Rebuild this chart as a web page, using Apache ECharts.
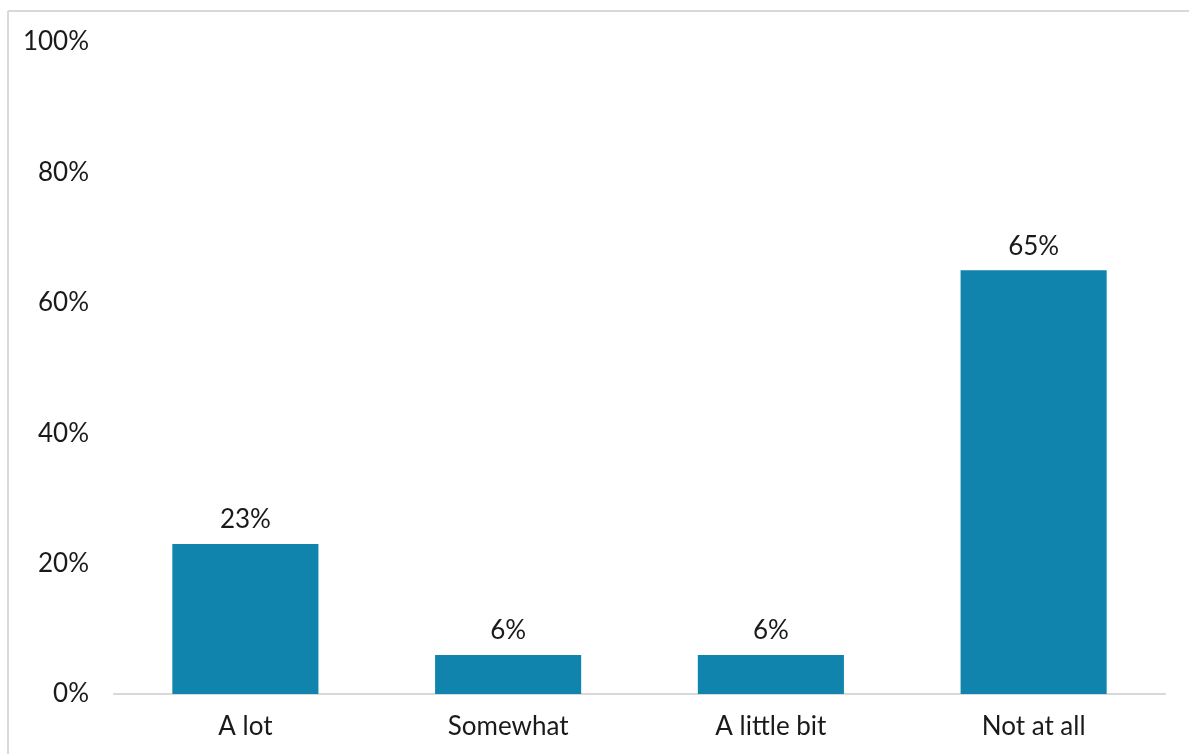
<!DOCTYPE html>
<html>
<head>
<meta charset="utf-8">
<script src="https://cdn.jsdelivr.net/npm/echarts@6/dist/echarts.min.js"></script>
<style>
html,body{margin:0;padding:0;background:#fff;}
#c{width:1189px;height:754px;}
</style>
</head>
<body>
<div id="c"></div>
<script>
const categories = ['A lot', 'Somewhat', 'A little bit', 'Not at all'];
const values = [23, 6, 6, 65];
const yTicks = [0, 20, 40, 60, 80, 100];

const chart = echarts.init(document.getElementById('c'));
const font = 'Lato, "Noto Sans", sans-serif';
chart.setOption({
  animation: false,
  backgroundColor: '#ffffff',
  graphic: [
    {type: 'line', shape: {x1: 8, y1: 11, x2: 1189, y2: 11}, style: {stroke: '#d9d9d9', lineWidth: 2}},
    {type: 'line', shape: {x1: 8, y1: 11, x2: 8, y2: 754}, style: {stroke: '#d9d9d9', lineWidth: 2}}
  ],
  grid: {left: 114, right: 24, top: 42, bottom: 60, containLabel: false},
  xAxis: {
    type: 'category',
    data: categories,
    axisLine: {lineStyle: {color: '#d9d9d9', width: 2}},
    axisTick: {show: false},
    axisLabel: {color: '#1a1a1a', fontSize: 26, fontFamily: font, margin: 20}
  },
  yAxis: {
    type: 'value',
    min: yTicks[0],
    max: yTicks[yTicks.length - 1],
    interval: 20,
    splitLine: {show: false},
    axisLine: {show: false},
    axisTick: {show: false},
    axisLabel: {color: '#1a1a1a', fontSize: 26, fontFamily: font, margin: 25, formatter: v => v + '%'}
  },
  series: [{
    type: 'bar',
    data: values,
    barWidth: '55.6%',
    itemStyle: {color: '#1084ac'},
    label: {show: true, position: 'top', distance: 11, color: '#1a1a1a', fontSize: 26, fontFamily: font, formatter: p => p.value + '%'}
  }]
});
</script>
</body>
</html>
